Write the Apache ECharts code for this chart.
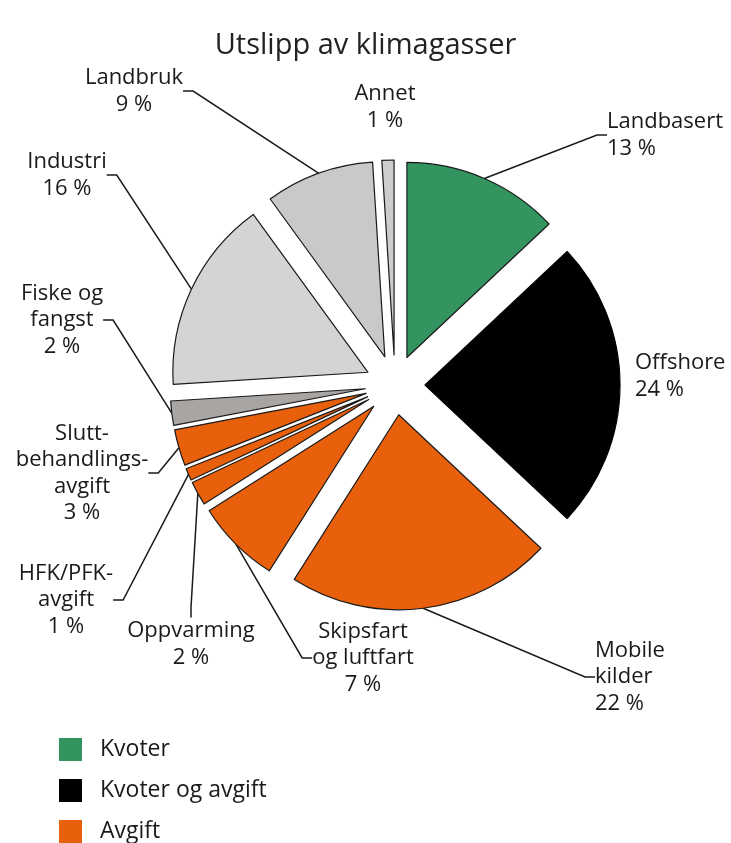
<!DOCTYPE html>
<html><head><meta charset="utf-8">
<script src="https://cdn.jsdelivr.net/npm/echarts@6/dist/echarts.min.js"></script>
<style>html,body{margin:0;padding:0;background:#fff}#c{width:731px;height:843px}</style>
</head><body><div id="c"></div>
<script>
const categories = ['Landbasert','Offshore','Mobile kilder','Skipsfart og luftfart','Oppvarming','HFK/PFK-avgift','Sluttbehandlingsavgift','Fiske og fangst','Industri','Landbruk','Annet'];
const labelTexts = ['Landbasert','Offshore','Mobile\nkilder','Skipsfart\nog luftfart','Oppvarming','HFK/PFK-\navgift','Slutt-\nbehandlings-\navgift','Fiske og\nfangst','Industri','Landbruk','Annet'];
const values = [13,24,22,7,2,1,3,2,16,9,1];
const groups = ['Kvoter','Kvoter og avgift','Avgift','Avgift','Avgift','Avgift','Avgift','Andre','Andre','Andre','Andre'];
const legendNames = ['Kvoter','Kvoter og avgift','Avgift'];

const groupColors = {'Kvoter':'#339460','Kvoter og avgift':'#000000','Avgift':'#e8600c'};
const greyColors = {'Fiske og fangst':'#a8a5a3','Industri':'#d4d4d4','Landbruk':'#c9c9c9','Annet':'#cdcdcd'};
// label anchor [x, y, align]
const labelPos = [[607,135,'left'],[635,376,'left'],[595,677,'left'],[363,658,'center'],[191,644,'center'],[66,600,'center'],[82,473,'center'],[62,320,'center'],[67,175,'center'],[134,91,'center'],[385,107,'center']];
const noLine = {'Offshore':true,'Annet':true};

const CX = 395, CY = 385, R = 195, OFFSET = 30;
const total = values.reduce((a,b)=>a+b,0);
const font = "'Open Sans', 'Noto Sans', sans-serif";
const chart = echarts.init(document.getElementById('c'));

const pieSeries = [];
let cum = 0;
categories.forEach((cat, k) => {
  const midDeg = 90 - (cum + values[k]/2) / total * 360;
  cum += values[k];
  const a = midDeg * Math.PI / 180;
  const center = [CX + OFFSET*Math.cos(a), CY - OFFSET*Math.sin(a)];
  const color = groups[k]==='Andre' ? greyColors[cat] : groupColors[groups[k]];
  const data = categories.map((c,i)=> i===k ? {
      name:c, value:values[i],
      itemStyle:{color:color, borderColor: groups[k]==='Kvoter og avgift' ? '#000' : '#1a1a1a', borderWidth:1.2},
      label:{show:true, formatter: labelTexts[i] + '\n' + values[i] + ' %', align: labelPos[k][2]},
      labelLine:{show: !noLine[c]}
    } : {
      name:c, value:values[i],
      itemStyle:{color:'rgba(0,0,0,0)', borderWidth:0},
      label:{show:false}, labelLine:{show:false}
    });
  pieSeries.push({
    type:'pie', name:cat, center:center, radius:[0,R], startAngle:90, clockwise:true,
    avoidLabelOverlap:false, emphasis:{disabled:true}, silent:true,
    label:{position:'outside', fontFamily:font, fontSize:22, lineHeight:26.5, color:'#1a1a1a'},
    labelLine:{length:10, length2:10, lineStyle:{color:'#1a1a1a', width:1.5}},
    labelLayout:function(p){
      if (p.dataIndex !== k) return {};
      const pos = labelPos[k];
      return {x:pos[0], y:pos[1], align:pos[2], verticalAlign:'middle'};
    },
    data:data
  });
});

chart.setOption({
  animation:false,
  title:{text:'Utslipp av klimagasser', left:'center', top:26,
    textStyle:{fontFamily:font, fontSize:29, fontWeight:'normal', color:'#222'}},
  grid:{show:false, left:0, top:0, width:1, height:1},
  xAxis:{show:false, type:'value'}, yAxis:{show:false, type:'value'},
  legend:{data:legendNames, orient:'vertical', left:59, top:738, padding:0, itemWidth:23, itemHeight:23, itemGap:18,
    icon:'rect', selectedMode:false, height:140,
    textStyle:{fontFamily:font, fontSize:23, color:'#1a1a1a', padding:[0,0,0,13]}},
  series: pieSeries.concat(legendNames.map(n => ({
    type:'scatter', name:n, data:[], itemStyle:{color:groupColors[n], opacity:1}
  })))
});
</script></body></html>
